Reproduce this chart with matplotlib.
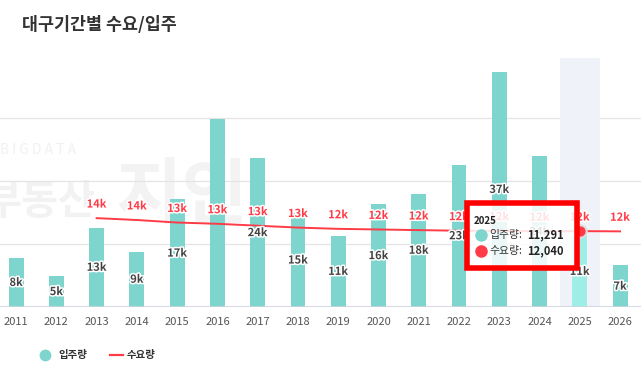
import matplotlib
matplotlib.use("Agg")
import matplotlib.pyplot as plt
import matplotlib.patheffects as pe
from matplotlib.patches import Rectangle
from matplotlib.lines import Line2D
import numpy as np

plt.rcParams['font.family'] = ['Noto Sans CJK KR', 'DejaVu Sans']

years = [str(y) for y in range(2011, 2027)]
supply = [7.8, 4.9, 12.6, 8.8, 17.1, 29.9, 23.6, 14.9, 11.3, 16.3, 18.0, 22.6, 37.3, 23.9, 11.291, 6.6]
supply_lbl = ["8k", "5k", "13k", "9k", "17k", None, "24k", "15k", "11k", "16k", "18k", "23k", "37k", "24k", "11k", "7k"]
demand_years = years[2:]
demand = [14.1, 13.8, 13.4, 13.2, 12.9, 12.6, 12.4, 12.3, 12.2, 12.1, 12.1, 12.0, 12.04, 12.0]
demand_lbl = ["14k", "14k", "13k", "13k", "13k", "13k", "12k", "12k", "12k", "12k", "12k", "12k", "12k", "12k"]
hl_year = "2025"

TEAL = "#7dd5ce"
TEAL_HL = "#9eede6"
RED = "#ff3b47"

fig = plt.figure(figsize=(6.41, 3.75), dpi=100)
ax = fig.add_axes([0, 0.1813, 1, 0.664])
x = np.arange(len(years))
hi = years.index(hl_year)

ax.set_xlim(-0.40, 15.52)
ax.set_ylim(0, 39.5)

# faint watermark behind the bars
ax.text(0.0, 0.59, "B I G D A T A", transform=fig.transFigure, color="#f1f1f1",
        fontsize=10, zorder=0.1)
ax.text(-0.025, 0.43, "부동산", transform=fig.transFigure, color="#f2f2f2",
        fontsize=29, fontweight="bold", zorder=0.1)
ax.text(0.18, 0.42, "지인", transform=fig.transFigure, color="#f3f3f3",
        fontsize=52, fontweight="bold", zorder=0.1)

for g in [10, 20, 30]:
    ax.axhline(g, color="#e4e4e4", lw=0.9, zorder=0.2)
ax.axhline(0, color="#cdd3df", lw=1.2, zorder=3)

# highlight band
ax.axvspan(hi - 0.5, hi + 0.5, color="#eff2f8", zorder=0.5, lw=0)

colors = [TEAL_HL if y == hl_year else TEAL for y in years]
ax.bar(x, supply, width=0.37, color=colors, zorder=2)

stroke = [pe.withStroke(linewidth=2.2, foreground="white")]
for i, (v, l) in enumerate(zip(supply, supply_lbl)):
    if l:
        ax.text(i, v / 2, l, ha="center", va="center", fontsize=8, fontweight="bold",
                color="#444444", path_effects=stroke, zorder=4)

dx = np.array([years.index(y) for y in demand_years])
ax.plot(dx, demand, color=RED, lw=1.4, zorder=3)
for xi, v, l in zip(dx, demand, demand_lbl):
    ax.text(xi, v + 1.2, l, ha="center", va="bottom", fontsize=8, fontweight="bold",
            color=RED, path_effects=stroke, zorder=4)
di = demand_years.index(hl_year)
ax.scatter([hi], [demand[di]], s=110, color="#dddddd", zorder=4, lw=0)
ax.scatter([hi], [demand[di]], s=55, color=RED, zorder=5, lw=0)

ax.set_xticks(x)
ax.set_xticklabels(years, fontsize=8, color="#555555")
ax.tick_params(axis="x", length=0, pad=7)
ax.set_yticks([])
for s in ax.spines.values():
    s.set_visible(False)

# tooltip
tb = Rectangle((467 / 641, 1 - 268 / 375), 110 / 641, 65 / 375, transform=fig.transFigure,
               facecolor=(1, 1, 1, 0.85), edgecolor="#ff0000", lw=4, zorder=10)
fig.add_artist(tb)
fig.text(474 / 641, 1 - 221 / 375, hl_year, fontsize=7, fontweight="bold", color="#222222",
         va="center", zorder=11)
fig.add_artist(Line2D([481 / 641], [1 - 235 / 375], marker="o", ms=8, color=TEAL,
                      transform=fig.transFigure, zorder=11))
fig.add_artist(Line2D([481 / 641], [1 - 251 / 375], marker="o", ms=8, color=RED,
                      transform=fig.transFigure, zorder=11))
fig.text(489 / 641, 1 - 235 / 375, "입주량:", fontsize=7.8, color="#333333", va="center", zorder=11)
fig.text(527 / 641, 1 - 235 / 375, f"{supply[hi] * 1000:,.0f}", fontsize=8, fontweight="bold",
         color="#222222", va="center", zorder=11)
fig.text(489 / 641, 1 - 251 / 375, "수요량:", fontsize=7.8, color="#333333", va="center", zorder=11)
fig.text(527 / 641, 1 - 251 / 375, f"{demand[di] * 1000:,.0f}", fontsize=8, fontweight="bold",
         color="#222222", va="center", zorder=11)

fig.text(22 / 641, 1 - 25 / 375, "대구기간별 수요/입주", fontsize=12.5, fontweight="bold",
         color="#333333", va="center")

# legend
fig.add_artist(Line2D([45 / 641], [1 - 355 / 375], marker="o", ms=7.5, color=TEAL,
                      transform=fig.transFigure))
fig.text(58 / 641, 1 - 355 / 375, "입주량", fontsize=7.5, fontweight="bold", color="#333333", va="center")
fig.add_artist(Line2D([110 / 641, 123 / 641], [1 - 355 / 375] * 2, color=RED, lw=1.6,
                      transform=fig.transFigure))
fig.text(127 / 641, 1 - 355 / 375, "수요량", fontsize=7.5, fontweight="bold", color="#333333", va="center")

fig.savefig("out.png", dpi=100)
